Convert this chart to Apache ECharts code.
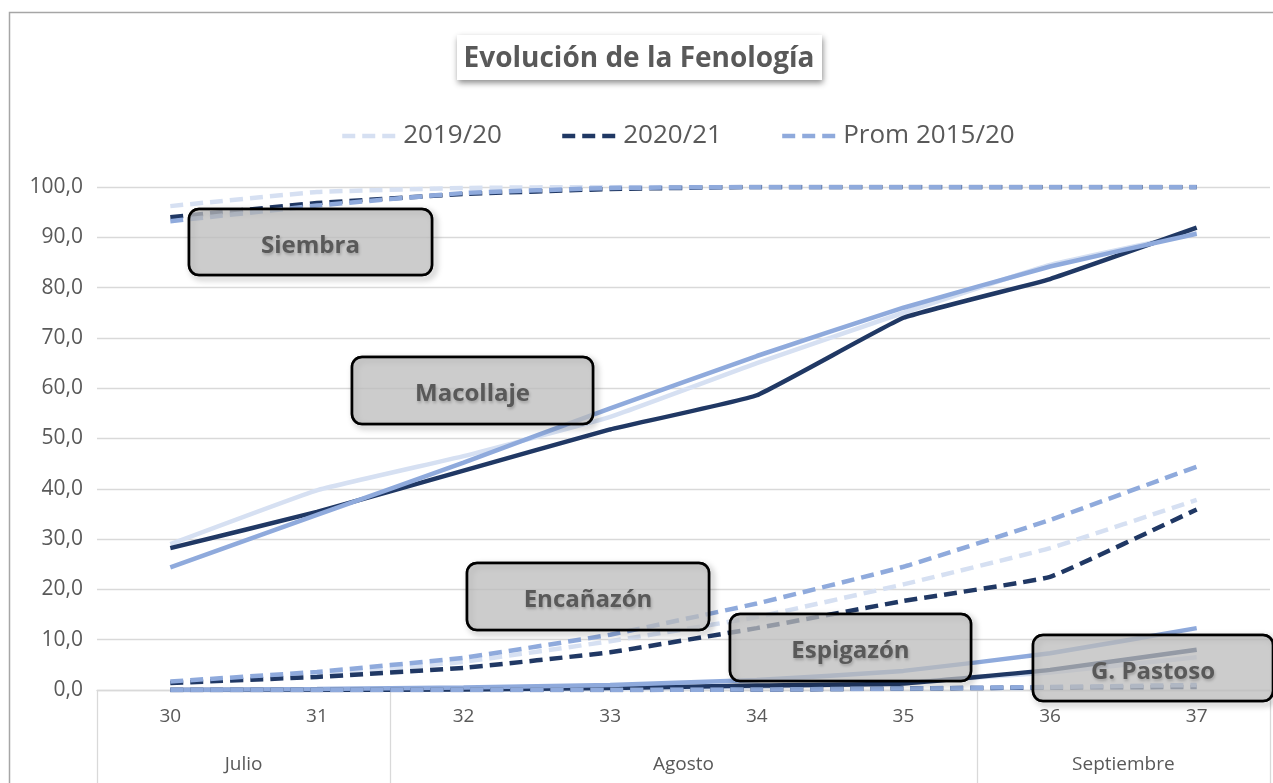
<!DOCTYPE html>
<html>
<head>
<meta charset="utf-8">
<script src="https://cdn.jsdelivr.net/npm/echarts@6/dist/echarts.min.js"></script>
<style>
  html, body { margin: 0; padding: 0; background: #fff; }
  #main { width: 1273px; height: 783px; }
</style>
</head>
<body>
<div id="main"></div>
<script>
// semanas y meses del eje x
var weeks = ['30', '31', '32', '33', '34', '35', '36', '37'];
var months = ['Julio', 'Agosto', 'Septiembre'];
var monthWeeks = [2, 4, 2]; // semanas que abarca cada mes

var years = ['2019/20', '2020/21', 'Prom 2015/20'];

// % de avance por fase y campaña
var siembra1920 = [96.2, 99.0, 99.8, 100, 100, 100, 100, 100];
var siembra2021 = [94.0, 96.8, 98.6, 99.6, 100, 100, 100, 100];
var siembraProm = [93.2, 96.3, 98.8, 99.8, 100, 100, 100, 100];

var macollaje1920 = [29.0, 39.7, 46.5, 54.3, 65.0, 75.0, 84.5, 90.8];
var macollaje2021 = [28.2, 35.4, 43.6, 51.8, 58.6, 74.0, 81.7, 91.9];
var macollajeProm = [24.4, 34.8, 45.2, 56.0, 66.4, 76.0, 84.2, 90.7];

var encanazon1920 = [1.5, 3.0, 5.6, 9.7, 14.5, 21.0, 28.2, 37.8];
var encanazon2021 = [1.4, 2.6, 4.4, 7.5, 12.3, 17.7, 22.5, 35.9];
var encanazonProm = [1.7, 3.6, 6.4, 11.0, 17.2, 24.5, 33.8, 44.4];

var espigazon1920 = [0, 0, 0, 0.2, 0.6, 1.5, 3.5, 6.5];
var espigazon2021 = [0, 0, 0.1, 0.4, 0.9, 1.3, 4.0, 8.0];
var espigazonProm = [0, 0.2, 0.5, 1.0, 2.0, 3.8, 7.3, 12.3];

var pastoso1920 = [0, 0, 0, 0, 0, 0.2, 0.4, 0.6];
var pastoso2021 = [0, 0, 0, 0, 0.1, 0.3, 0.5, 0.6];
var pastosoProm = [0, 0, 0, 0, 0.1, 0.3, 0.6, 1.0];

var yTicks = [0, 10, 20, 30, 40, 50, 60, 70, 80, 90, 100];

var colors = ['#d6e0f2', '#203864', '#8faadc'];
var font = '"Open Sans", "Noto Sans", sans-serif';
var gris = '#595959';
var rejilla = '#d9d9d9';
var guion = [13, 7];

// fases: [nombre, guionada?, datos por campaña]
var fases = [
  ['Siembra', true, [siembra1920, siembra2021, siembraProm]],
  ['Macollaje', false, [macollaje1920, macollaje2021, macollajeProm]],
  ['Encañazón', true, [encanazon1920, encanazon2021, encanazonProm]],
  ['Espigazón', false, [espigazon1920, espigazon2021, espigazonProm]],
  ['G. Pastoso', true, [pastoso1920, pastoso2021, pastosoProm]]
];

var series = [];
fases.forEach(function (f) {
  f[2].forEach(function (d, i) {
    series.push({
      name: years[i],
      type: 'line',
      data: d,
      symbol: 'none',
      showSymbol: false,
      smooth: 0.1,
      color: colors[i],
      lineStyle: { width: 4.5, color: colors[i], type: f[1] ? guion : 'solid' },
      emphasis: { disabled: true }
    });
  });
});

// eje de meses en medias semanas: etiqueta en el centro de cada mes, marca en los bordes
var halfLabels = [];
var bordes = [0];
for (var k = 0; k <= weeks.length * 2; k++) halfLabels.push('');
var acc = 0;
months.forEach(function (m, i) {
  halfLabels[acc * 2 + monthWeeks[i]] = m;
  acc += monthWeeks[i];
  bordes.push(acc * 2);
});

// cuadros de texto de cada fase (posiciones en px)
var cuadros = [
  ['Siembra', 189, 209, 243, 66],
  ['Macollaje', 352, 357, 241, 67],
  ['Encañazón', 467, 563, 242, 67],
  ['Espigazón', 730, 614, 241, 67],
  ['G. Pastoso', 1033, 635, 240, 66]
];

var graphic = [
  {
    type: 'rect', left: 7, top: 10, z: -10,
    shape: { width: 1300, height: 800 },
    style: { fill: 'none', stroke: '#a6a6a6', lineWidth: 1.5 }
  },
  {
    type: 'group', left: 457, top: 35, z: 50,
    children: [
      { type: 'rect', z: 50, shape: { x: 0, y: 0, width: 365, height: 45 },
        style: { fill: '#fff', shadowBlur: 6, shadowOffsetX: 1, shadowOffsetY: 3, shadowColor: 'rgba(0,0,0,0.45)' } },
      { type: 'text', z: 51, style: { text: 'Evolución de la Fenología', x: 182, y: 24, align: 'center', verticalAlign: 'middle',
        font: 'bold 28px ' + font, fill: gris } }
    ]
  }
];
cuadros.forEach(function (c) {
  graphic.push({
    type: 'group', x: c[1], y: c[2], z: 100,
    children: [
      // sombra solo del borde, para que el relleno deje ver las líneas
      { type: 'rect', z: 100, shape: { x: 0, y: 0, width: c[3], height: c[4], r: 10 },
        style: { fill: 'none', stroke: '#000', lineWidth: 2.5,
          shadowBlur: 6, shadowOffsetX: 3, shadowOffsetY: 3, shadowColor: 'rgba(0,0,0,0.4)' } },
      { type: 'rect', z: 101, shape: { x: 0, y: 0, width: c[3], height: c[4], r: 10 },
        style: { fill: 'rgba(187,187,187,0.75)', stroke: '#000', lineWidth: 2.5 } },
      { type: 'text', z: 102, style: { text: c[0], x: c[3] / 2, y: c[4] / 2 + 4, align: 'center', verticalAlign: 'middle',
        font: 'bold 24px ' + font, fill: gris,
        textShadowBlur: 3, textShadowOffsetX: 1, textShadowOffsetY: 2, textShadowColor: 'rgba(0,0,0,0.22)' } }
    ]
  });
});

var chart = echarts.init(document.getElementById('main'));
chart.setOption({
  animation: false,
  backgroundColor: '#fff',
  grid: { left: 97, right: -1, top: 187, bottom: 93, containLabel: false },
  legend: {
    data: years,
    top: 118,
    left: 335,
    itemWidth: 56,
    itemHeight: 14,
    itemGap: 58,
    itemStyle: { opacity: 0 },
    lineStyle: { width: 4.5, type: guion },
    textStyle: { fontSize: 26, color: gris, fontFamily: font }
  },
  xAxis: [
    {
      type: 'category',
      data: weeks,
      boundaryGap: true,
      axisLine: { lineStyle: { color: rejilla, width: 1.3 } },
      axisTick: { length: 45, lineStyle: { color: rejilla, width: 1.3 } },
      axisLabel: { fontSize: 19, color: gris, fontFamily: font, margin: 17 }
    },
    {
      type: 'category',
      data: halfLabels,
      boundaryGap: false,
      position: 'bottom',
      axisLine: { show: false },
      axisTick: {
        show: true, length: 93,
        interval: function (i) { return bordes.indexOf(i) >= 0; },
        lineStyle: { color: rejilla, width: 1.3 }
      },
      axisLabel: { interval: 0, fontSize: 19, color: gris, fontFamily: font, margin: 65 }
    }
  ],
  yAxis: {
    type: 'value',
    min: yTicks[0],
    max: yTicks[yTicks.length - 1],
    interval: 10,
    axisLine: { show: false },
    axisTick: { show: false },
    splitLine: { lineStyle: { color: rejilla, width: 1.3 } },
    axisLabel: {
      fontSize: 21, color: gris, fontFamily: font, margin: 14,
      formatter: function (v) { return v.toFixed(1).replace('.', ','); }
    }
  },
  graphic: graphic,
  series: series
});
</script>
</body>
</html>
